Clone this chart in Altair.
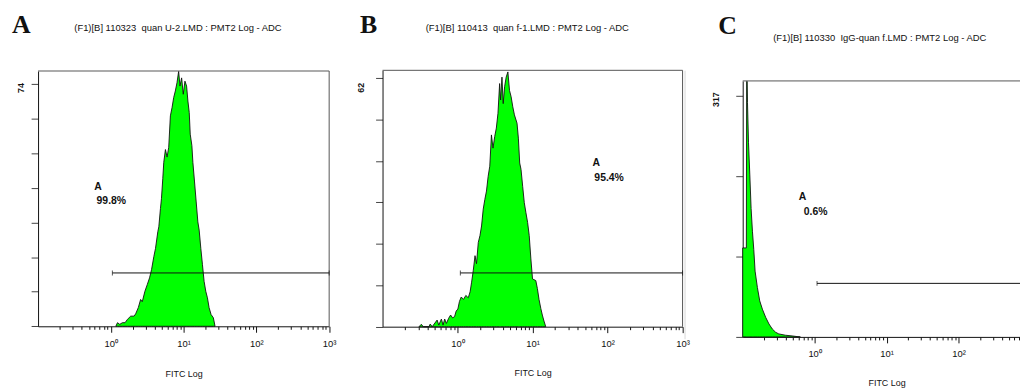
import altair as alt
import pandas as pd

# ---------------- data ----------------
panel_letters = ["A", "B", "C"]
panel_titles = [
    "(F1)[B] 110323\u00a0 quan U-2.LMD : PMT2 Log - ADC",
    "(F1)[B] 110413\u00a0 quan f-1.LMD : PMT2 Log - ADC",
    "(F1)[B] 110330\u00a0 IgG-quan f.LMD : PMT2 Log - ADC",
]
x_axis_title = "FITC Log"
gate_names = ["A", "A", "A"]
gate_percents = ["99.8%", "95.4%", "0.6%"]
y_top_labels = [74, 62, 317]
y_tick_values = [
    [0, 10.57, 21.14, 31.71, 42.29, 52.86, 63.43, 74],
    [0, 10.33, 20.67, 31, 41.33, 51.67, 62],
    [0, 105.67, 211.33, 317],
]
decade_values = [1, 10, 100, 1000]
decade_labels = ["10⁰", "10¹", "10²", "10³"]
minor_tick_values = [0.2, 0.3, 0.4, 0.5, 0.6, 0.7, 0.8, 0.9,
                     2, 3, 4, 5, 6, 7, 8, 9,
                     20, 30, 40, 50, 60, 70, 80, 90,
                     200, 300, 400, 500, 600, 700, 800, 900]

gate_from = [1.05, 1.09, 1.08]
gate_to = [1000, 1000, 1000]
gate_level = [16.3, 13.4, 70.4]

a_fitc = [1.171, 1.233, 1.327, 1.443, 1.569, 1.688, 1.875, 2.081, 2.193, 2.385,
          2.566, 2.704, 2.939, 3.163, 3.404, 3.625, 3.899, 4.109, 4.422, 4.563,
          4.808, 4.961, 5.173, 5.338, 5.625, 5.927, 6.245, 6.580, 6.933, 7.306,
          7.697, 8.111, 8.547, 8.913, 9.391, 9.894, 10.43, 10.99, 11.46, 11.95,
          12.33, 12.99, 13.41, 14.13, 14.89, 15.69, 16.36, 17.24, 18.16, 19.13,
          20.16, 21.25, 22.39, 23.84, 25.64, 27.02]
a_count = [0, 1.1, 0.6, 1.1, 1.1, 2.1, 3.1, 3.1, 3.8, 5.7,
           8.2, 7.5, 10.7, 12.7, 14.8, 17.3, 21.3, 23.8, 28.9, 30.4,
           36.0, 39.0, 45.1, 50.1, 54.0, 51.7, 54.7, 64.3, 66.8, 69.9,
           71.9, 74.4, 77.9, 73.4, 75.9, 70.9, 74.9, 73.4, 68.8, 65.3,
           58.7, 55.2, 50.1, 44.1, 38.0, 31.9, 29.4, 23.8, 18.8, 13.7,
           10.7, 8.7, 5.7, 3.6, 2.6, 0]

b_fitc = [0.306, 0.329, 0.349, 0.415, 0.432, 0.459, 0.534, 0.562, 0.609, 0.641,
          0.674, 0.709, 0.761, 0.808, 0.859, 0.912, 0.959, 1.01, 1.06, 1.12,
          1.20, 1.29, 1.39, 1.47, 1.54, 1.62, 1.71, 1.79, 1.89, 1.99,
          2.09, 2.20, 2.31, 2.43, 2.56, 2.69, 2.83, 2.97, 3.13, 3.29,
          3.46, 3.64, 3.75, 3.91, 4.06, 4.24, 4.45, 4.69, 4.93, 5.18,
          5.45, 5.73, 6.21, 6.47, 6.74, 7.02, 7.38, 7.76, 8.16, 8.59,
          9.03, 9.50, 9.99, 11.05, 11.6, 12.2, 12.9, 13.5, 14.2, 15.0]
b_count = [0, 0.6, 0, 0, 0.66, 0, 1.65, 0.4, 1.9, 0.4,
           1.9, 0.8, 2.1, 2.9, 2.2, 2.5, 3.9, 4.4, 6.3, 7.4,
           6.8, 7.8, 7.2, 8.7, 11.1, 14.0, 17.7, 15.7, 21.0, 22.7,
           25.1, 29.3, 31.7, 33.8, 37.5, 40.0, 47.8, 44.5, 47.4, 49.5,
           53.2, 60.6, 56.5, 62.2, 55.6, 59.8, 62.2, 63.5, 58.9, 57.3,
           54.8, 52.8, 50.7, 47.0, 40.8, 39.2, 35.0, 30.9, 28.4, 26.0,
           22.7, 16.9, 11.9, 11.5, 9.5, 6.8, 4.5, 2.9, 1.4, 0]

c_fitc = [0.100, 0.1125, 0.1135, 0.1155, 0.1166, 0.1204, 0.1256, 0.1309, 0.1366, 0.1426,
          0.1487, 0.1602, 0.1725, 0.1878, 0.2087, 0.232, 0.258, 0.287, 0.318, 0.394,
          0.486, 0.570, 0.634]
c_count = [117, 117, 336, 336, 308, 256, 213, 169, 139, 115,
           86.5, 64.8, 47.4, 36.5, 25.7, 17.0, 10.4, 6.1, 3.9, 2.2,
           1.3, 0.4, 0]

histograms = [(a_fitc, a_count), (b_fitc, b_count), (c_fitc, c_count)]

# ---------------- layout (pixel ranges / annotation anchors in data units) ----------------
LAYOUT = [
    dict(xrange=[30.3, 323.7], yrange=[319.3, 62.0], ymax=78.0, x_off=-62.7, y_off=-30.3,
         xtitle_y=47.7, ylab_pad=6, ylab_off=3.4,
         letter=(0.0438, 89.6), title=(8.36, 91.2), name=(0.593, 42.6), pct=(0.637, 38.3)),
    dict(xrange=[377.5, 679.9], yrange=[319.7, 61.3], ymax=63.9, x_off=-62.3, y_off=-377.5,
         xtitle_y=46.3, ylab_pad=10.5, ylab_off=9.4,
         letter=(0.0499, 73.2), title=(8.49, 74.4), name=(62.8, 40.7), pct=(66.7, 37.0)),
    dict(xrange=[740.5, 1030.5], yrange=[330.0, 72.0], ymax=336.6, x_off=-52.0, y_off=-740.5,
         xtitle_y=46.3, ylab_pad=15.3, ylab_off=3.3,
         letter=(0.0459, 398.3), title=(8.05, 393.0), name=(0.602, 184.3), pct=(0.705, 164.8),
         edge=(0.0158, -3, 350)),
]

SANS = "Arial, Liberation Sans, sans-serif"
SERIF = "Times New Roman, Liberation Serif, serif"
GREEN = "#00ff00"
FRAME = "#555555"


def build_panel(i):
    L = LAYOUT[i]
    fitc, count = histograms[i]
    xs = alt.Scale(type="log", domain=[0.1, 1000], range=L["xrange"], nice=False)
    ys = alt.Scale(type="linear", domain=[0, L["ymax"]], range=L["yrange"], nice=False, zero=False)

    major_test = " || ".join(f"datum.value == {v}" for v in decade_values)
    label_expr = "".join(f"datum.value == {v} ? '{t}' : " for v, t in zip(decade_values, decade_labels)) + "''"
    top = y_top_labels[i]

    xaxis = alt.Axis(
        orient="bottom", offset=L["x_off"], values=minor_tick_values + decade_values,
        labelExpr=label_expr, grid=False,
        tickSize={"condition": {"test": major_test, "value": 6}, "value": 3},
        tickColor="#111111", domainColor="#111111", tickWidth=1, domainWidth=1,
        labelFont=SANS, labelFontSize=9.5, labelColor="#111111", labelPadding=6,
        labelOverlap=False, labelFlush=False,
        title=x_axis_title, titleFont=SANS, titleFontSize=9, titleFontWeight="normal",
        titleColor="#111111", titleBaseline="middle", titleY=L["xtitle_y"],
    )
    yaxis = alt.Axis(
        orient="left", offset=L["y_off"], values=y_tick_values[i],
        labelExpr=f"datum.value == {top} ? '{top}' : ''", grid=False,
        tickSize=7, tickColor="#444444", domainColor="#111111", tickWidth=1,
        labelFont=SANS, labelFontSize=9, labelFontWeight="bold", labelColor="#111111",
        labelAngle=-90, labelAlign="center", labelBaseline="bottom",
        labelPadding=L["ylab_pad"], labelOffset=L["ylab_off"],
        labelOverlap=False, labelFlush=False, title=None,
    )

    # every layer of a panel carries the same scale and axis definition
    X = lambda: alt.X("fitc:Q", scale=xs, axis=xaxis)
    Y = lambda: alt.Y("count:Q", scale=ys, axis=yaxis)

    hist = alt.Chart(pd.DataFrame({"fitc": fitc, "count": count})).mark_area(
        fill=GREEN, stroke="#111111", strokeWidth=0.9, interpolate="linear"
    ).encode(x=X(), y=Y())

    frame_df = pd.DataFrame({"fitc": [0.1, 1000], "fitc2": [1000, 1000],
                             "count": [L["ymax"], 0], "count2": [L["ymax"], L["ymax"]]})
    frame = alt.Chart(frame_df).mark_rule(color=FRAME, strokeWidth=1).encode(
        x=X(), x2="fitc2:Q", y=Y(), y2="count2:Q")

    gate_df = pd.DataFrame({"fitc": [gate_from[i]], "fitc2": [gate_to[i]], "count": [gate_level[i]]})
    gate = alt.Chart(gate_df).mark_rule(color="#111111", strokeWidth=1).encode(
        x=X(), x2="fitc2:Q", y=Y())
    caps_df = pd.DataFrame({"fitc": [gate_from[i], gate_to[i]], "count": [gate_level[i]] * 2})
    caps = alt.Chart(caps_df).mark_tick(orient="vertical", size=5, thickness=1, color="#111111").encode(
        x=X(), y=Y())

    ann_df = pd.DataFrame({"fitc": [L["name"][0], L["pct"][0]], "count": [L["name"][1], L["pct"][1]],
                           "label": [gate_names[i], gate_percents[i]]})
    ann = alt.Chart(ann_df).mark_text(align="left", baseline="middle", font=SANS, fontSize=10.5,
                                      fontWeight="bold", color="#111111").encode(
        x=X(), y=Y(), text="label:N")

    title_df = pd.DataFrame({"fitc": [L["title"][0]], "count": [L["title"][1]], "label": [panel_titles[i]]})
    title = alt.Chart(title_df).mark_text(align="center", baseline="middle", font=SANS, fontSize=9.5,
                                          color="#111111").encode(x=X(), y=Y(), text="label:N")

    letter_df = pd.DataFrame({"fitc": [L["letter"][0]], "count": [L["letter"][1]], "label": [panel_letters[i]]})
    letter = alt.Chart(letter_df).mark_text(align="left", baseline="alphabetic", font=SERIF, fontSize=26,
                                            fontWeight="bold", color="#111111").encode(
        x=X(), y=Y(), text="label:N")

    layers = [hist, frame, gate, caps, ann, title, letter]
    if "edge" in L:
        ex, ey0, ey1 = L["edge"]
        edge_df = pd.DataFrame({"fitc": [ex], "count": [ey0], "count2": [ey1]})
        layers.append(alt.Chart(edge_df).mark_rule(color="#d8d8d8", strokeWidth=1).encode(
            x=X(), y=Y(), y2="count2:Q"))
    return alt.layer(*layers)


panels = [build_panel(i) for i in range(3)]

chart = (
    alt.layer(*panels)
    .resolve_scale(x="independent", y="independent")
    .resolve_axis(x="independent", y="independent")
    .properties(width=1020, height=382, padding=0, autosize=alt.AutoSizeParams(type="none"),
                background="white")
    .configure_view(stroke=None)
)

chart.save("out.html", embed_options={"renderer": "svg", "actions": False})
